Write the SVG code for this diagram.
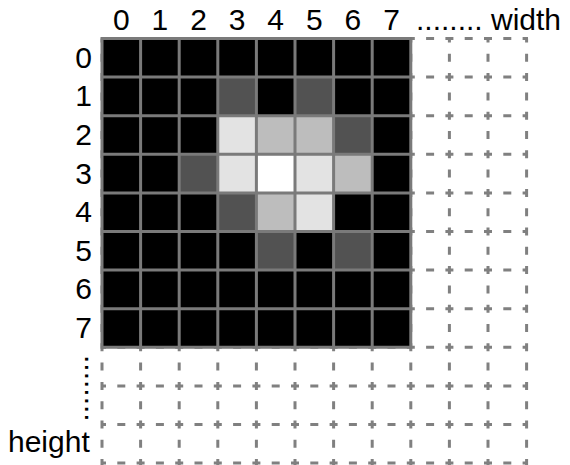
<svg xmlns="http://www.w3.org/2000/svg" width="570" height="465" viewBox="0 0 570 465">
<style>
.lbl{font-family:"Liberation Sans",Arial,sans-serif;font-size:30px;fill:#000}
.dash{stroke:#808080;stroke-width:3;fill:none;stroke-dasharray:8 11.3;stroke-dashoffset:4}
.grid{stroke:#7a7a7a;stroke-width:3;fill:none}
.d{fill:#525252}.m{fill:#bdbdbd}.l{fill:#e3e3e3}.w{fill:#ffffff}
</style>
<rect width="570" height="465" fill="#fff"/>
<g id="dashed-grid" class="dash">
<path d="M102,38.5V465M140.6,38.5V465M179.2,38.5V465M217.8,38.5V465M256.4,38.5V465M295,38.5V465M333.6,38.5V465M372.2,38.5V465M410.8,38.5V465M449.4,38.5V465M488,38.5V465M526.6,38.5V465"/>
<path d="M102,38.5H528M102,77.1H528M102,115.7H528M102,154.3H528M102,192.9H528M102,231.5H528M102,270.1H528M102,308.7H528M102,347.3H528M102,385.9H528M102,424.5H528M102,463.1H528"/>
</g>
<g id="pixels">
<rect x="102" y="38.5" width="308.8" height="308.8" fill="#000"/>
<rect class="d" x="217.8" y="77.1" width="38.6" height="38.6"/>
<rect class="d" x="295" y="77.1" width="38.6" height="38.6"/>
<rect class="l" x="217.8" y="115.7" width="38.6" height="38.6"/>
<rect class="m" x="256.4" y="115.7" width="38.6" height="38.6"/>
<rect class="m" x="295" y="115.7" width="38.6" height="38.6"/>
<rect class="d" x="333.6" y="115.7" width="38.6" height="38.6"/>
<rect class="d" x="179.2" y="154.3" width="38.6" height="38.6"/>
<rect class="l" x="217.8" y="154.3" width="38.6" height="38.6"/>
<rect class="w" x="256.4" y="154.3" width="38.6" height="38.6"/>
<rect class="l" x="295" y="154.3" width="38.6" height="38.6"/>
<rect class="m" x="333.6" y="154.3" width="38.6" height="38.6"/>
<rect class="d" x="217.8" y="192.9" width="38.6" height="38.6"/>
<rect class="m" x="256.4" y="192.9" width="38.6" height="38.6"/>
<rect class="l" x="295" y="192.9" width="38.6" height="38.6"/>
<rect class="d" x="256.4" y="231.5" width="38.6" height="38.6"/>
<rect class="d" x="333.6" y="231.5" width="38.6" height="38.6"/>
</g>
<g id="solid-grid" class="grid">
<path d="M102,37V348.8M140.6,38.5V347.3M179.2,38.5V347.3M217.8,38.5V347.3M256.4,38.5V347.3M295,38.5V347.3M333.6,38.5V347.3M372.2,38.5V347.3M410.8,37V348.8"/>
<path d="M102,38.5H410.8M102,77.1H410.8M102,115.7H410.8M102,154.3H410.8M102,192.9H410.8M102,231.5H410.8M102,270.1H410.8M102,308.7H410.8M102,347.3H410.8"/>
</g>
<g id="column-labels" class="lbl" text-anchor="middle">
<text x="121.3" y="30">0</text>
<text x="159.9" y="30">1</text>
<text x="198.5" y="30">2</text>
<text x="237.1" y="30">3</text>
<text x="275.7" y="30">4</text>
<text x="314.3" y="30">5</text>
<text x="352.9" y="30">6</text>
<text x="391.5" y="30">7</text>
</g>
<g id="width-label" class="lbl">
<text x="416" y="30">........ width</text>
</g>
<g id="row-labels" class="lbl" text-anchor="end">
<text x="92" y="67.8">0</text>
<text x="92" y="106.4">1</text>
<text x="92" y="145">2</text>
<text x="92" y="183.6">3</text>
<text x="92" y="222.2">4</text>
<text x="92" y="260.8">5</text>
<text x="92" y="299.4">6</text>
<text x="92" y="338">7</text>
</g>
<g id="height-label" class="lbl">
<text transform="translate(85,355) rotate(90)">........</text>
<text x="8" y="452">height</text>
</g>
</svg>
